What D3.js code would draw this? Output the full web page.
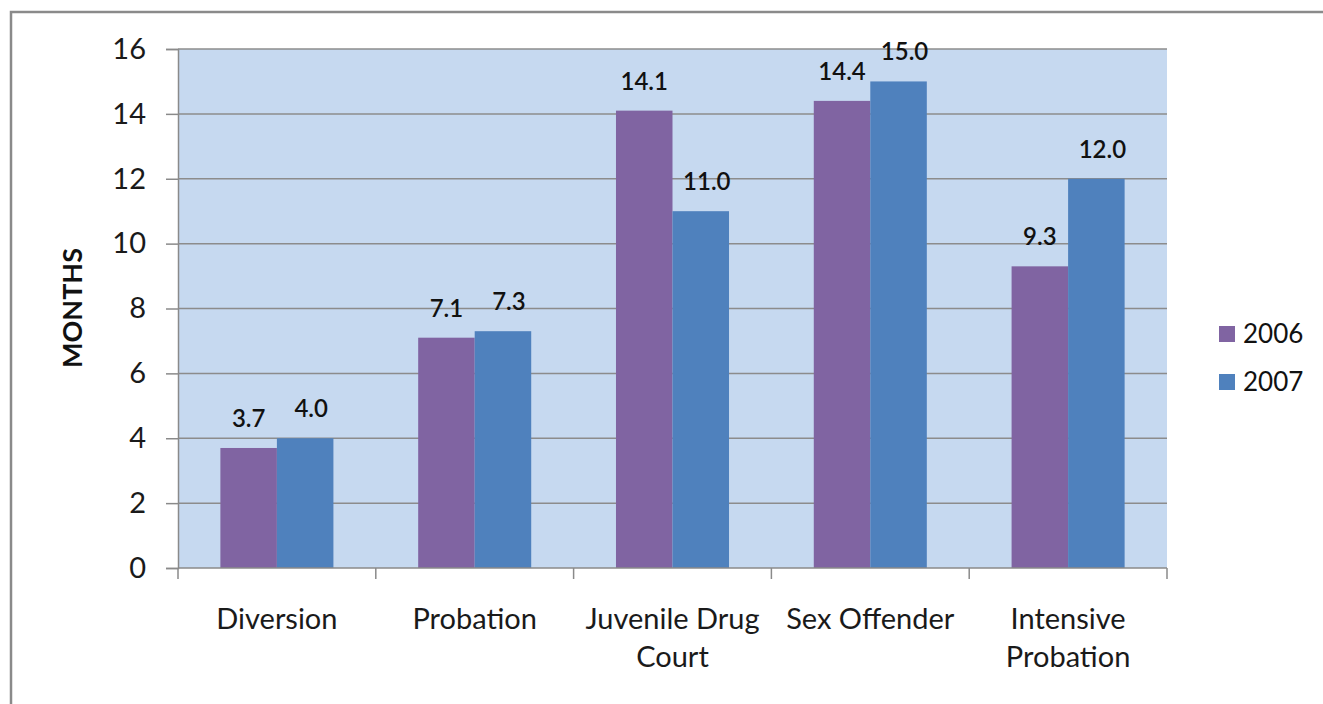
<!DOCTYPE html>
<html>
<head>
<meta charset="utf-8">
<script src="https://cdn.jsdelivr.net/npm/d3@7"></script>
<style>
  html, body { margin: 0; padding: 0; background: #fff; }
  svg { display: block; font-family: Lato, "Open Sans", sans-serif; }
</style>
</head>
<body>
<svg id="chart" width="1323" height="704"></svg>
<script>
// Average length of supervision, in months, by program
const categories = [["Diversion"], ["Probation"], ["Juvenile Drug", "Court"], ["Sex Offender"], ["Intensive", "Probation"]];
const seriesNames = ["2006", "2007"];
const values2006 = [3.7, 7.1, 14.1, 14.4, 9.3];
const values2007 = [4.0, 7.3, 11.0, 15.0, 12.0];
const yTicks = [0, 2, 4, 6, 8, 10, 12, 14, 16];
const colors = ["#8064a2", "#4f81bd"];

const svg = d3.select("#chart");
const plot = { left: 178, right: 1167, top: 49, bottom: 568 };

// outer frame (top and left edges)
svg.append("path")
  .attr("d", "M11,704 V12 H1323")
  .attr("fill", "none").attr("stroke", "#8a8a8a").attr("stroke-width", 2.5);

const keys = categories.map((c, i) => i);
const x0 = d3.scaleBand().domain(keys).range([plot.left, plot.right]).paddingInner(0).paddingOuter(0);
const x1 = d3.scaleBand().domain(seriesNames).range([0, x0.bandwidth()]).paddingInner(0).paddingOuter(0.75);
const y = d3.scaleLinear().domain([0, 16]).range([plot.bottom, plot.top]);

// plot background
svg.append("rect")
  .attr("x", plot.left).attr("y", plot.top)
  .attr("width", plot.right - plot.left).attr("height", plot.bottom - plot.top)
  .attr("fill", "#c6d9f0");

// y axis with gridlines
const yAxis = svg.append("g").attr("transform", `translate(${plot.left},0)`)
  .call(d3.axisLeft(y).tickValues(yTicks).tickSize(12).tickPadding(20).tickFormat(d3.format("d")));
yAxis.select(".domain").attr("stroke", "#8a8a8a").attr("stroke-width", 1.5);
yAxis.selectAll(".tick line").attr("stroke", "#8a8a8a").attr("stroke-width", 1.5);
yAxis.selectAll(".tick text").attr("font-size", 29).attr("fill", "#1a1a1a").attr("font-family", "Lato, sans-serif");

svg.append("g").selectAll("line").data(yTicks.filter(t => t > 0)).join("line")
  .attr("x1", plot.left).attr("x2", plot.right)
  .attr("y1", d => y(d)).attr("y2", d => y(d))
  .attr("stroke", "#8c8c8c").attr("stroke-width", 1.5);

// bars
const rows = keys.map(i => ({ i, vals: [values2006[i], values2007[i]] }));
const groups = svg.append("g").selectAll("g").data(rows).join("g")
  .attr("transform", d => `translate(${x0(d.i)},0)`);
groups.selectAll("rect").data(d => d.vals.map((v, k) => ({ k, v }))).join("rect")
  .attr("x", d => x1(seriesNames[d.k]))
  .attr("y", d => y(d.v))
  .attr("width", x1.bandwidth())
  .attr("height", d => y(0) - y(d.v))
  .attr("fill", d => colors[d.k]);
groups.selectAll("text").data(d => d.vals.map((v, k) => ({ k, v }))).join("text")
  .attr("x", d => x1(seriesNames[d.k]) + x1.bandwidth() / 2 + (d.k === 1 ? 6 : 0))
  .attr("y", d => y(d.v) - 21)
  .attr("text-anchor", "middle")
  .attr("font-size", 24).attr("font-weight", 600).attr("fill", "#111")
  .text(d => d.v.toFixed(1));

// x axis
const xAxisG = svg.append("g");
xAxisG.append("line")
  .attr("x1", plot.left).attr("x2", plot.right)
  .attr("y1", plot.bottom).attr("y2", plot.bottom)
  .attr("stroke", "#8a8a8a").attr("stroke-width", 1.5);
xAxisG.selectAll("line.tk").data(keys.concat([keys.length])).join("line").attr("class", "tk")
  .attr("x1", d => d < keys.length ? x0(d) : plot.right)
  .attr("x2", d => d < keys.length ? x0(d) : plot.right)
  .attr("y1", plot.bottom).attr("y2", plot.bottom + 11)
  .attr("stroke", "#8a8a8a").attr("stroke-width", 1.5);
xAxisG.selectAll("text").data(keys).join("text")
  .attr("x", d => x0(d) + x0.bandwidth() / 2)
  .attr("y", 629)
  .attr("text-anchor", "middle")
  .attr("font-size", 29).attr("fill", "#1a1a1a")
  .each(function (d) {
    d3.select(this).selectAll("tspan").data(categories[d]).join("tspan")
      .attr("x", x0(d) + x0.bandwidth() / 2)
      .attr("dy", (t, j) => j === 0 ? 0 : 38)
      .text(t => t);
  });

// y axis title
svg.append("text")
  .attr("transform", "translate(82,308) rotate(-90)")
  .attr("text-anchor", "middle")
  .attr("font-size", 27).attr("font-weight", 700).attr("fill", "#111")
  .text("MONTHS");

// legend
const legend = svg.append("g").selectAll("g").data(seriesNames).join("g")
  .attr("transform", (d, i) => `translate(1219,${326 + i * 48})`);
legend.append("rect").attr("width", 16).attr("height", 16).attr("fill", (d, i) => colors[i]);
legend.append("text").attr("x", 24).attr("y", 17)
  .attr("font-size", 26).attr("fill", "#111").text(d => d);
</script>
</body>
</html>
